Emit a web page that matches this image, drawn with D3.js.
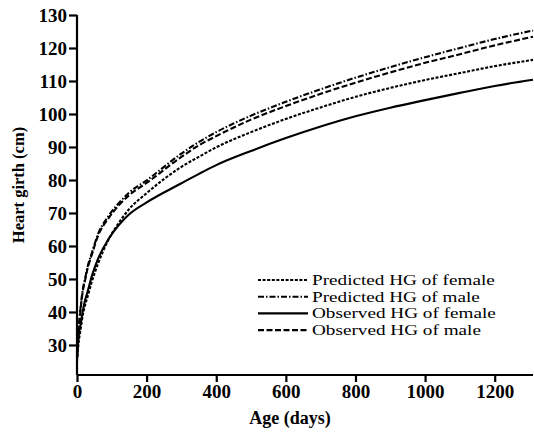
<!DOCTYPE html>
<html><head><meta charset="utf-8">
<script src="https://cdn.jsdelivr.net/npm/d3@7"></script>
<style>
body{margin:0;background:#fff;}
svg{display:block;font-family:"Liberation Serif","Times New Roman",serif;}
</style></head>
<body>
<svg id="chart" width="534" height="432"></svg>
<script>
const ages = [0, 5, 10, 17, 23, 30, 43, 60, 90, 120, 150, 200, 300, 353, 400, 500, 600, 700, 800, 900, 1000, 1100, 1200, 1310];
const predictedFemale = [25, 31, 34.5, 39.3, 42, 44.5, 49.3, 54.5, 61.8, 67, 71.2, 76, 84, 87.2, 89.9, 94.5, 98.5, 102, 105.2, 107.9, 110.3, 112.4, 114.5, 116.4];
const predictedMale   = [26, 35, 41, 47, 50, 53.5, 58, 63.5, 69, 73, 76.2, 79.9, 88, 91.7, 94.5, 99.5, 103.7, 107.5, 111, 114.2, 117.2, 120, 122.7, 125.3];
const observedFemale  = [26, 33, 36, 40.5, 43.5, 46, 51, 56, 62, 66.3, 69.6, 73.2, 79, 82, 84.5, 88.8, 92.7, 96.2, 99.3, 101.9, 104.2, 106.4, 108.5, 110.4];
const observedMale    = [26, 34.5, 40.5, 46.5, 49.5, 53, 57.5, 63, 68.3, 72.3, 75.4, 79.1, 87, 90.7, 93.3, 98.3, 102.4, 106.1, 109.5, 112.6, 115.5, 118.1, 120.8, 123.4];
const xTicks = [0, 200, 400, 600, 800, 1000, 1200];
const yTicks = [30, 40, 50, 60, 70, 80, 90, 100, 110, 120, 130];
const seriesNames = ["Predicted HG of female", "Predicted HG of male", "Observed HG of female", "Observed HG of male"];

const series = [
  {name: seriesNames[0], values: predictedFemale, dash: "3,1.6"},
  {name: seriesNames[1], values: predictedMale, dash: "6,2,1.5,2"},
  {name: seriesNames[2], values: observedFemale, dash: null},
  {name: seriesNames[3], values: observedMale, dash: "6,2.5"}
];

const svg = d3.select("#chart");
const x = d3.scaleLinear().domain([0, 1310]).range([77, 533]);
const y = d3.scaleLinear().domain([20.9, 130]).range([375, 15]);

const line = d3.line().x((d,i)=>x(ages[i])).y(d=>y(d)).curve(d3.curveMonotoneX);

series.forEach(s=>{
  svg.append("path").attr("d", line(s.values)).attr("fill","none")
    .attr("stroke","#000").attr("stroke-width",2.1)
    .attr("stroke-dasharray", s.dash);
});

const xAxis = svg.append("g").attr("transform","translate(0,375)")
  .call(d3.axisBottom(x).tickValues(xTicks).tickSize(7).tickPadding(3).tickFormat(d3.format("d")));
const yAxis = svg.append("g").attr("transform","translate(77,0)")
  .call(d3.axisLeft(y).tickValues(yTicks).tickSize(8).tickPadding(2).tickFormat(d3.format("d")));
[xAxis, yAxis].forEach(g=>{
  g.select(".domain").attr("stroke-width",2.2).attr("stroke","#000");
  g.selectAll(".tick line").attr("stroke-width",2.2).attr("stroke","#000");
  g.selectAll(".tick text").attr("font-family","Liberation Serif, serif")
    .attr("font-size",19).attr("font-weight","bold").attr("fill","#000");
});
xAxis.select(".domain").attr("d", `M${x(0)},0H${x(1310)}`);
yAxis.select(".domain").attr("d", `M0,${y(20.9)}V${y(130)}`);

svg.append("text").attr("x",290).attr("y",424).attr("text-anchor","middle")
  .attr("font-size",18).attr("font-weight","bold").text("Age (days)");
svg.append("text").attr("transform","translate(24,185) rotate(-90)").attr("text-anchor","middle")
  .attr("font-size",16.5).attr("font-weight","bold").text("Heart girth (cm)");

const leg = svg.append("g");
series.forEach((s,i)=>{
  const yy = 280 + i*16.7;
  leg.append("line").attr("x1",258).attr("x2",308).attr("y1",yy).attr("y2",yy)
    .attr("stroke","#000").attr("stroke-width",2.1).attr("stroke-dasharray", s.dash);
  leg.append("text").attr("transform",`translate(312,${yy+5}) scale(1.28,1)`)
    .attr("font-size",15).attr("font-weight","normal").text(s.name);
});
</script>
</body></html>
